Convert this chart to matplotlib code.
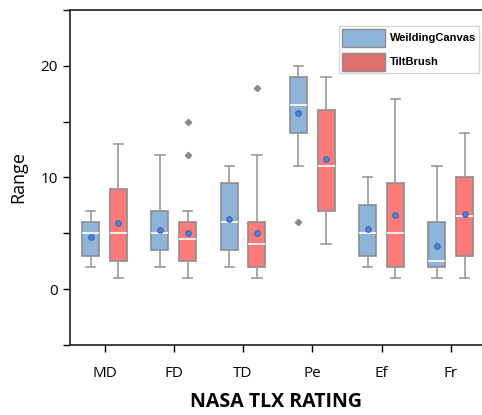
import matplotlib
matplotlib.use("Agg")
import matplotlib.pyplot as plt
from matplotlib.patches import Patch
from matplotlib.ticker import MultipleLocator

plt.rcParams['font.family'] = ['Open Sans', 'DejaVu Sans']

categories = ["MD", "FD", "TD", "Pe", "Ef", "Fr"]
series = ["WeildingCanvas", "TiltBrush"]

# WeildingCanvas stats
wc_whislo = [2, 2, 2, 11, 2, 1]
wc_q1     = [3, 3.5, 3.5, 14, 3, 2]
wc_med    = [5, 5, 6, 16.5, 5, 2.5]
wc_q3     = [6, 7, 9.5, 19, 7.5, 6]
wc_whishi = [7, 12, 11, 20, 10, 11]
wc_mean   = [4.65, 5.33, 6.28, 15.8, 5.4, 3.85]
wc_fliers = [[], [], [], [6], [], []]

# TiltBrush stats
tb_whislo = [1, 1, 1, 4, 1, 1]
tb_q1     = [2.5, 2.5, 2, 7, 2, 3]
tb_med    = [5, 4.5, 4, 11, 5, 6.5]
tb_q3     = [9, 6, 6, 16, 9.5, 10]
tb_whishi = [13, 7, 12, 19, 17, 14]
tb_mean   = [5.9, 5.0, 5.0, 11.65, 6.6, 6.7]
tb_fliers = [[], [12, 15], [18], [], [], []]

fig = plt.figure(figsize=(4.82, 4.15), dpi=100)
ax = fig.add_axes([0.145, 0.169, 0.855, 0.807])

def stats(lo, q1, med, q3, hi, mean, fl):
    return [dict(whislo=a, q1=b, med=c, q3=d, whishi=e, mean=m, fliers=f)
            for a, b, c, d, e, m, f in zip(lo, q1, med, q3, hi, mean, fl)]

pos = list(range(1, len(categories) + 1))
off = 0.2
w = 0.245
colors = ["#8FB4DA", "#FF7B7B"]
data = [
    stats(wc_whislo, wc_q1, wc_med, wc_q3, wc_whishi, wc_mean, wc_fliers),
    stats(tb_whislo, tb_q1, tb_med, tb_q3, tb_whishi, tb_mean, tb_fliers),
]
for i, (st, col) in enumerate(zip(data, colors)):
    p = [x + (-off if i == 0 else off) for x in pos]
    ax.bxp(st, positions=p, widths=w, patch_artist=True, showmeans=True,
           showfliers=True, capwidths=w * 0.55,
           boxprops=dict(facecolor=col, edgecolor="#8C8C8C", linewidth=1.2),
           medianprops=dict(color="white", linewidth=1.2),
           whiskerprops=dict(color="#9A9A9A", linewidth=1.2),
           capprops=dict(color="#9A9A9A", linewidth=1.2),
           meanprops=dict(marker="o", markerfacecolor="#4F86DB", markeredgecolor="#2F5FA8",
                          markersize=4, markeredgewidth=0.7),
           flierprops=dict(marker="D", markerfacecolor="#8A8A8A", markeredgecolor="#8A8A8A",
                           markersize=3.2))

ax.set_xlim(0.5, 6.45)
ax.set_ylim(-5, 25)
ax.set_xticks(pos)
ax.set_xticklabels(categories, fontsize=11)
ax.yaxis.set_major_locator(MultipleLocator(10))
ax.yaxis.set_minor_locator(MultipleLocator(5))
ax.tick_params(axis='y', which='major', labelsize=11, length=5, width=1)
ax.tick_params(axis='y', which='minor', length=5, width=1)
ax.tick_params(axis='x', length=5, width=1, pad=10)
ax.spines['right'].set_visible(False)
for s in ['left', 'bottom', 'top']:
    ax.spines[s].set_linewidth(1.2)
    ax.spines[s].set_color("#222222")

ax.set_ylabel("Range", fontsize=13, labelpad=10)
ax.set_xlabel("NASA TLX RATING", fontsize=14, fontweight="bold", labelpad=8)

handles = [Patch(facecolor="#8FB4DA", edgecolor="#8C8C8C", label=series[0]),
           Patch(facecolor="#E07070", edgecolor="#8C8C8C", label=series[1])]
leg = ax.legend(handles=handles, loc="upper right", bbox_to_anchor=(0.992, 0.952),
                prop=dict(family="Liberation Sans", weight="bold", size=8),
                handlelength=3.9, handleheight=2.1,
                frameon=True, fancybox=False, edgecolor="#CCCCCC", borderpad=0.25,
                labelspacing=0.55, handletextpad=0.4, borderaxespad=0)

fig.savefig("out.png", dpi=100)
